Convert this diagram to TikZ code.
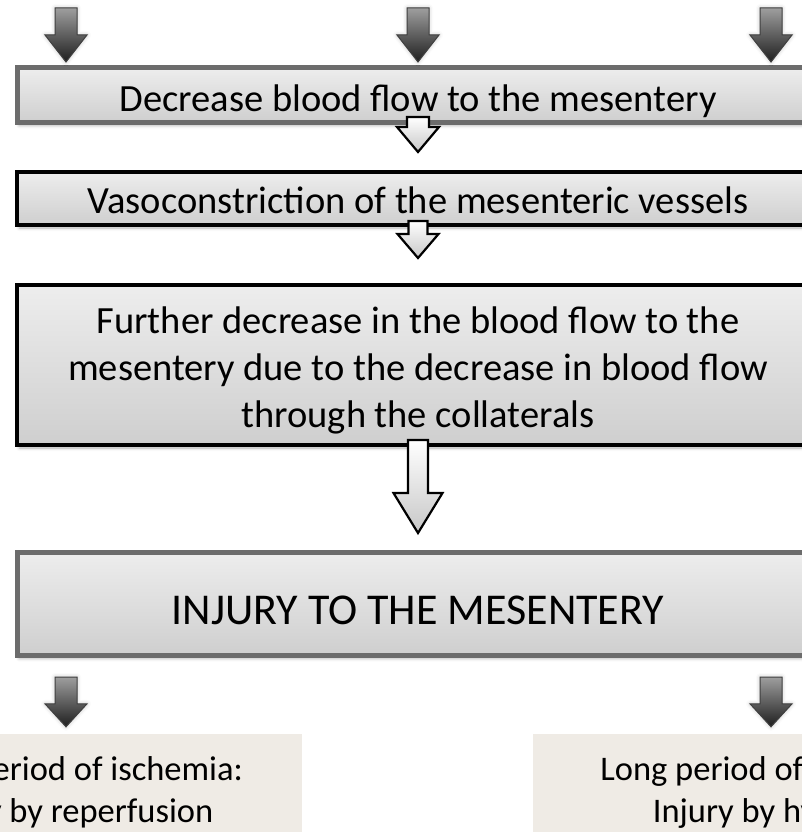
\documentclass[tikz,border=0pt]{standalone}
\usepackage{fontspec}
\setmainfont{Carlito}
\usetikzlibrary{calc,shadows.blur}
\definecolor{beigebox}{RGB}{239,235,229}
\definecolor{greyedge}{RGB}{108,108,108}
\newcommand\blockarrow[6]{%
  \path[#1] let \p1=#2, \p2=#3 in
    (\x1-#4pt,\y1) -- (\x1+#4pt,\y1) -- (\x1+#4pt,\y2+#6pt) -- (\x1+#5pt,\y2+#6pt)
    -- (\x1,\y2) -- (\x1-#5pt,\y2+#6pt) -- (\x1-#4pt,\y2+#6pt) -- cycle;}
\tikzset{
  flowbox/.style={rectangle, inner sep=0pt, minimum width=802, anchor=base,
    top color=black!7, bottom color=black!19,
    blur shadow={shadow xshift=2pt, shadow yshift=-3pt, shadow blur radius=3pt, shadow opacity=30}},
  greyedge/.style={draw=greyedge, line width=5},
  blackedge/.style={draw=black, line width=4},
  mainfont/.style={font=\fontsize{38.5}{47}\selectfont},
  bigfont/.style={font=\fontsize{44}{53}\selectfont},
  smallfont/.style={font=\fontsize{34.5}{42}\selectfont},
  resultbox/.style={rectangle, inner sep=0pt, anchor=base, fill=beigebox, smallfont,
    text height=46, text depth=60},
  darkarrow/.style={top color=black!38, bottom color=black!88, draw=black!75, line width=1,
    blur shadow={shadow xshift=0pt, shadow yshift=0pt, shadow blur radius=4pt, shadow opacity=25}},
  openarrow/.style={top color=white, bottom color=black!22, draw=black, line width=2.2},
}
\begin{document}
\begin{tikzpicture}[x=1pt,y=-1pt]
\useasboundingbox (0,0) rectangle (802,832);
\clip (0,0) rectangle (802,832);

% boxes
\node[flowbox, greyedge, mainfont, text height=44.5, text depth=10.5] (b1) at (418,112)
  {Decrease blood flow to the mesentery};
\node[flowbox, blackedge, mainfont, text height=41, text depth=12] (b2) at (418,213)
  {Vasoconstriction of the mesenteric vessels};
\node[flowbox, blackedge, mainfont, text height=48, text depth=112] (b3) at (418,333)
  {\begin{tabular}[t]{@{}c@{}}Further decrease in the blood flow to the\\
   mesentery due to the decrease in blood flow\\ through the collaterals\end{tabular}};
\node[flowbox, greyedge, bigfont, text height=71.5, text depth=31.5] (b4) at (418,624)
  {INJURY TO THE MESENTERY};

\node[resultbox, minimum width=470] (r1) at (67,780)
  {\begin{tabular}[t]{@{}c@{}}Short period of ischemia:\\ Injury by reperfusion\end{tabular}};
\node[resultbox, minimum width=478] (r2) at (772,780)
  {\begin{tabular}[t]{@{}c@{}}Long period of ischemia:\\ Injury by hypoxia\end{tabular}};

% free ends of the incoming arrows
\coordinate (t1) at (66,8);
\coordinate (t2) at (418,8);
\coordinate (t3) at (771,8);
\coordinate (s1) at (66,677);
\coordinate (s2) at (771,677);

% dark arrows
\blockarrow{darkarrow}{(t1)}{($(t1 |- b1.north)+(0,-3)$)}{11}{21}{27}
\blockarrow{darkarrow}{(t2)}{($(t2 |- b1.north)+(0,-3)$)}{11}{21}{27}
\blockarrow{darkarrow}{(t3)}{($(t3 |- b1.north)+(0,-3)$)}{11}{21}{27}
\blockarrow{darkarrow}{(s1)}{($(s1 |- r1.north)+(0,-7)$)}{11}{21}{23}
\blockarrow{darkarrow}{(s2)}{($(s2 |- r2.north)+(0,-7)$)}{11}{21}{23}

% open arrows between boxes
\blockarrow{openarrow}{($(b1.south)+(0,-8)$)}{($(b2.north)+(0,-18)$)}{11}{21}{25}
\blockarrow{openarrow}{($(b2.south)+(0,-6)$)}{($(b3.north)+(0,-25)$)}{9.5}{20.5}{24}
\blockarrow{openarrow}{($(b3.south)+(0,-7)$)}{($(b4.north)+(0,-17)$)}{10}{24.5}{40}
\end{tikzpicture}
\end{document}
